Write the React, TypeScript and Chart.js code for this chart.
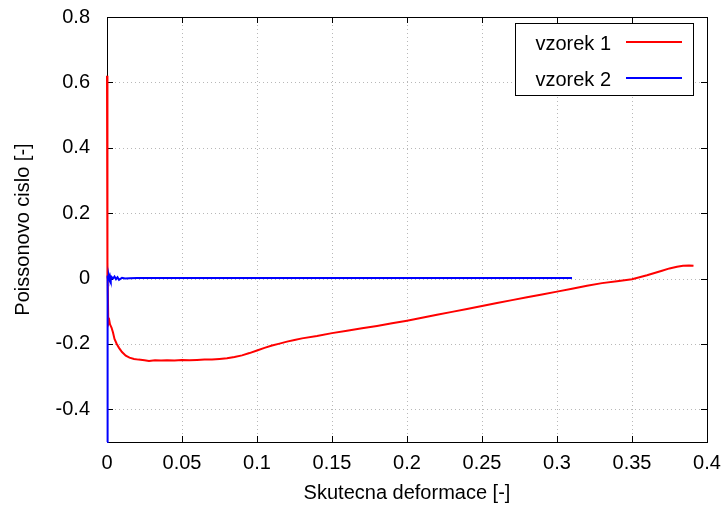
import React, { useEffect, useRef } from "react";
import { Chart, registerables } from "chart.js";

Chart.register(...registerables);

const xTickValues = [0, 0.05, 0.1, 0.15, 0.2, 0.25, 0.3, 0.35, 0.4];
const yTickValues = [-0.4, -0.2, 0, 0.2, 0.4, 0.6, 0.8];
const xTitle = "Skutecna deformace [-]";
const yTitle = "Poissonovo cislo [-]";
const seriesLabels = ["vzorek 1", "vzorek 2"];
const seriesColors = ["#ff0000", "#0000ff"];

const sample1X = [
  0, 0.0001, 0.0003, 0.0005, 0.0008, 0.0012, 0.0016, 0.002, 0.003, 0.004, 0.005, 0.0065, 0.008,
  0.01, 0.0125, 0.015, 0.018, 0.021, 0.025, 0.028, 0.032, 0.036, 0.04, 0.045, 0.05, 0.055, 0.06,
  0.065, 0.07, 0.075, 0.08, 0.085, 0.09, 0.095, 0.1, 0.105, 0.11, 0.115, 0.12, 0.125, 0.13, 0.14,
  0.15, 0.16, 0.17, 0.18, 0.19, 0.2, 0.21, 0.22, 0.23, 0.24, 0.25, 0.26, 0.27, 0.28, 0.29, 0.3,
  0.31, 0.32, 0.33, 0.34, 0.35, 0.355, 0.36, 0.365, 0.37, 0.375, 0.38, 0.384, 0.388, 0.391,
];
const sample1Y = [
  0.62, 0.0, 0.43, 0.05, -0.12, -0.135, -0.13, -0.14, -0.15, -0.165, -0.185, -0.2, -0.212,
  -0.225, -0.236, -0.242, -0.246, -0.248, -0.25, -0.252, -0.25, -0.251, -0.25, -0.251, -0.249, -0.25, -0.249,
  -0.248, -0.248, -0.246, -0.244, -0.24, -0.235, -0.228, -0.22, -0.212, -0.205, -0.199, -0.193, -0.188, -0.183, -0.176,
  -0.167, -0.16, -0.152, -0.145, -0.137, -0.129, -0.12, -0.111, -0.102, -0.093, -0.084, -0.075, -0.066, -0.057, -0.049, -0.04,
  -0.031, -0.022, -0.014, -0.008, -0.002, 0.004, 0.01, 0.017, 0.024, 0.031, 0.036, 0.039, 0.04, 0.039,
];

const sample2X = [
  0, 0.0002, 0.0004, 0.0006, 0.0009, 0.0012, 0.0016, 0.002, 0.0025, 0.003, 0.004, 0.005, 0.006,
  0.007, 0.008, 0.01, 0.012, 0.015, 0.02, 0.03, 0.05, 0.1, 0.15, 0.2, 0.25, 0.3, 0.31,
];
const sample2Y = [
  -0.5, -0.25, 0.003, 0.009, -0.004, 0.008, -0.001, 0.007, -0.003, 0.005, 0.0, 0.006, -0.002,
  0.004, -0.004, 0.002, 0.0, 0.001, 0.002, 0.002, 0.002, 0.002, 0.002, 0.002, 0.002, 0.002, 0.002,
];

const FONT_FAMILY = '"Liberation Sans", Arial, Helvetica, sans-serif';
const fmt = (v: number) => String(Math.round(v * 100) / 100);

const framePlugin = {
  id: "gnuplotFrame",
  beforeDatasetsDraw(chart: any) {
    const { ctx, chartArea } = chart;
    const { left, right, top, bottom } = chartArea;
    const xs = chart.scales.x;
    const ys = chart.scales.y;
    ctx.save();
    ctx.strokeStyle = "#b8b8b8";
    ctx.lineWidth = 1;
    ctx.setLineDash([1, 3]);
    xTickValues.forEach((v) => {
      const px = Math.round(xs.getPixelForValue(v)) + 0.5;
      if (px <= left + 1 || px >= right - 1) return;
      ctx.beginPath();
      ctx.moveTo(px, top);
      ctx.lineTo(px, bottom);
      ctx.stroke();
    });
    yTickValues.forEach((v) => {
      const py = Math.round(ys.getPixelForValue(v)) + 0.5;
      if (py <= top + 1 || py >= bottom - 1) return;
      ctx.beginPath();
      ctx.moveTo(left, py);
      ctx.lineTo(right, py);
      ctx.stroke();
    });
    ctx.setLineDash([]);
    ctx.strokeStyle = "#000";
    ctx.lineWidth = 1;
    ctx.strokeRect(left + 0.5, top + 0.5, right - left, bottom - top);
    const tl = 6;
    ctx.beginPath();
    xTickValues.forEach((v) => {
      const px = Math.round(xs.getPixelForValue(v)) + 0.5;
      ctx.moveTo(px, bottom);
      ctx.lineTo(px, bottom - tl);
      ctx.moveTo(px, top);
      ctx.lineTo(px, top + tl);
    });
    yTickValues.forEach((v) => {
      const py = Math.round(ys.getPixelForValue(v)) + 0.5;
      ctx.moveTo(left, py);
      ctx.lineTo(left + tl, py);
      ctx.moveTo(right, py);
      ctx.lineTo(right - tl, py);
    });
    ctx.stroke();
    ctx.restore();
  },
  afterDraw(chart: any) {
    const { ctx } = chart;
    ctx.save();
    const bx = 515.5, by = 23.5, bw = 178, bh = 72;
    ctx.fillStyle = "#fff";
    ctx.fillRect(bx, by, bw, bh);
    ctx.strokeStyle = "#000";
    ctx.lineWidth = 1;
    ctx.strokeRect(bx, by, bw, bh);
    ctx.font = `20px ${FONT_FAMILY}`;
    ctx.textAlign = "right";
    ctx.textBaseline = "alphabetic";
    chart.data.datasets.forEach((ds: any, i: number) => {
      const base = 49.5 + i * 36;
      ctx.fillStyle = "#000";
      ctx.fillText(ds.label, 611, base);
      ctx.strokeStyle = ds.borderColor;
      ctx.lineWidth = 2;
      ctx.beginPath();
      ctx.moveTo(626, base - 7.5);
      ctx.lineTo(682, base - 7.5);
      ctx.stroke();
    });
    ctx.restore();
  },
};

export default function App() {
  const canvasRef = useRef<HTMLCanvasElement | null>(null);

  useEffect(() => {
    if (!canvasRef.current) return;
    const font = { family: FONT_FAMILY, size: 20 };
    const chart = new Chart(canvasRef.current, {
      type: "line",
      data: {
        datasets: [
          {
            label: seriesLabels[0],
            data: sample1X.map((x, i) => ({ x, y: sample1Y[i] })),
            borderColor: seriesColors[0],
            backgroundColor: seriesColors[0],
            borderWidth: 2,
            pointRadius: 0,
            tension: 0,
            fill: false,
            order: 1,
            clip: 4,
          },
          {
            label: seriesLabels[1],
            data: sample2X.map((x, i) => ({ x, y: sample2Y[i] })),
            borderColor: seriesColors[1],
            backgroundColor: seriesColors[1],
            borderWidth: 2,
            pointRadius: 0,
            tension: 0,
            fill: false,
            order: 0,
            clip: 4,
          },
        ],
      },
      options: {
        animation: false,
        responsive: false,
        devicePixelRatio: 1,
        layout: { padding: { top: 17, right: 17, left: 0, bottom: 0 } },
        plugins: {
          legend: { display: false },
          tooltip: { enabled: false },
          title: { display: false },
        },
        scales: {
          x: {
            type: "linear",
            min: 0,
            max: 0.4,
            afterBuildTicks: (s: any) => {
              s.ticks = xTickValues.map((value) => ({ value }));
            },
            afterFit: (s: any) => {
              s.height = 65;
              s.paddingLeft = 0;
              s.paddingRight = 0;
            },
            ticks: {
              font,
              color: "#000",
              padding: 9,
              maxRotation: 0,
              autoSkip: false,
              callback: (v: any) => fmt(Number(v)),
            },
            grid: { display: false, drawTicks: false },
            border: { display: false },
            title: {
              display: true,
              text: xTitle,
              font,
              color: "#000",
              padding: { top: 0, bottom: 2 },
            },
          },
          y: {
            type: "linear",
            min: -0.5,
            max: 0.8,
            afterBuildTicks: (s: any) => {
              s.ticks = yTickValues.map((value) => ({ value }));
            },
            afterFit: (s: any) => {
              s.width = 107;
              s.paddingTop = 0;
              s.paddingBottom = 0;
            },
            ticks: {
              font,
              color: "#000",
              padding: 17,
              autoSkip: false,
              callback: (v: any) => fmt(Number(v)),
            },
            grid: { display: false, drawTicks: false },
            border: { display: false },
            title: {
              display: true,
              text: yTitle,
              font,
              color: "#000",
              padding: { top: 11, bottom: 0 },
            },
          },
        },
      } as any,
      plugins: [framePlugin],
    });
    return () => chart.destroy();
  }, []);

  return (
    <div style={{ position: "absolute", left: 0, top: 0, width: 724, height: 507, background: "#fff" }}>
      <canvas ref={canvasRef} width={724} height={507} style={{ display: "block" }} />
    </div>
  );
}
